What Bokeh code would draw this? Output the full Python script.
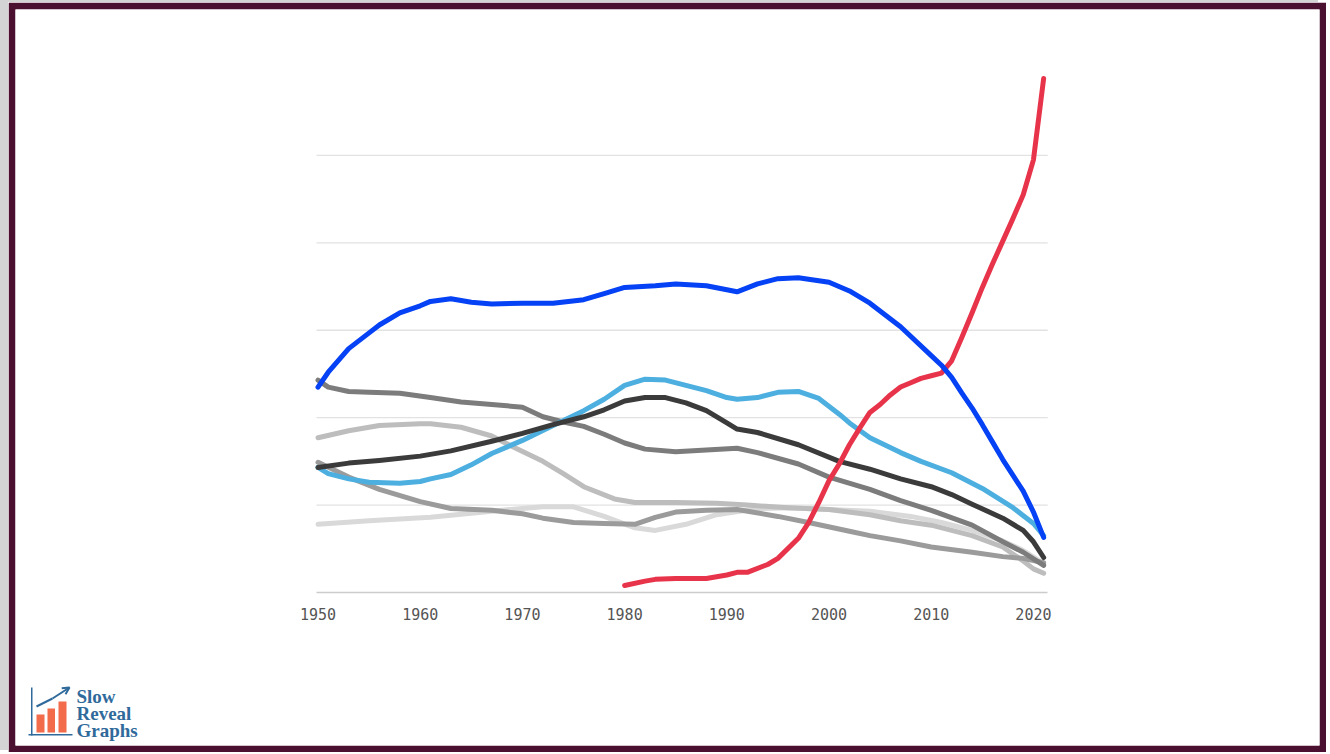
from bokeh.plotting import figure
from bokeh.models import Range1d, FixedTicker, Label, BoxAnnotation, Arrow, OpenHead
from bokeh.embed import file_html
from bokeh.resources import INLINE

# ---------------- data ----------------
x_ticks = [1950, 1960, 1970, 1980, 1990, 2000, 2010, 2020]
grid_levels = [10, 20, 30, 40, 50]

blue_years = [1950, 1951, 1953, 1955, 1956, 1958, 1960, 1961, 1963, 1965, 1967, 1970, 1973, 1976,
              1978, 1980, 1983, 1985, 1988, 1991, 1993, 1995, 1997, 2000, 2002, 2004, 2007, 2010,
              2011, 2012, 2013, 2014, 2015, 2016, 2017, 2018, 2019, 2020, 2021]
blue_vals = [23.5, 25.2, 27.9, 29.7, 30.6, 32.0, 32.8, 33.3, 33.6, 33.2, 33.0, 33.1, 33.1, 33.5,
             34.2, 34.9, 35.1, 35.3, 35.1, 34.4, 35.3, 35.9, 36.0, 35.5, 34.5, 33.1, 30.4, 27.1,
             26.0, 24.6, 22.8, 21.1, 19.2, 17.2, 15.2, 13.4, 11.6, 9.2, 6.3]

red_years = [1980, 1982, 1983, 1985, 1988, 1990, 1991, 1992, 1994, 1995, 1997, 1998, 1999, 2000,
             2001, 2002, 2003, 2004, 2005, 2006, 2007, 2008, 2009, 2010, 2011, 2012, 2013, 2014,
             2015, 2016, 2017, 2018, 2019, 2020, 2021]
red_vals = [0.8, 1.3, 1.5, 1.6, 1.6, 2.0, 2.3, 2.3, 3.2, 3.9, 6.2, 8.0, 10.3, 12.8,
            14.7, 16.9, 18.8, 20.6, 21.5, 22.6, 23.5, 24.0, 24.5, 24.8, 25.1, 26.5, 29.2, 32.0,
            34.9, 37.6, 40.2, 42.8, 45.5, 49.5, 58.8]

lightblue_years = [1950, 1951, 1953, 1955, 1958, 1960, 1961, 1963, 1965, 1967, 1970, 1973, 1976,
                   1978, 1980, 1982, 1984, 1986, 1988, 1990, 1991, 1993, 1995, 1997, 1999, 2001,
                   2002, 2004, 2007, 2009, 2012, 2015, 2018, 2020, 2021]
lightblue_vals = [14.3, 13.6, 13.0, 12.6, 12.5, 12.7, 13.0, 13.5, 14.6, 15.9, 17.4, 19.1, 20.8,
                  22.1, 23.7, 24.4, 24.3, 23.7, 23.1, 22.3, 22.1, 22.3, 22.9, 23.0, 22.2, 20.4,
                  19.4, 17.7, 16.0, 15.0, 13.7, 11.9, 9.7, 7.9, 6.5]

black_years = [1950, 1953, 1956, 1960, 1963, 1967, 1970, 1973, 1976, 1978, 1980, 1982, 1984, 1986,
               1988, 1990, 1991, 1993, 1997, 2001, 2004, 2007, 2010, 2012, 2014, 2017, 2019, 2020, 2021]
black_vals = [14.3, 14.8, 15.1, 15.6, 16.2, 17.3, 18.2, 19.2, 20.1, 20.9, 21.9, 22.3, 22.3, 21.7,
              20.8, 19.4, 18.7, 18.3, 16.9, 15.0, 14.1, 13.0, 12.1, 11.2, 10.1, 8.5, 7.1, 5.8, 4.0]

midgray_years = [1950, 1951, 1953, 1955, 1958, 1961, 1964, 1967, 1970, 1972, 1974, 1976, 1978, 1980,
                 1982, 1985, 1988, 1991, 1993, 1997, 2000, 2004, 2007, 2010, 2014, 2017, 2019, 2021]
midgray_vals = [24.3, 23.5, 23.0, 22.9, 22.8, 22.3, 21.8, 21.5, 21.2, 20.1, 19.5, 19.0, 18.1, 17.1,
                16.4, 16.1, 16.3, 16.5, 16.0, 14.7, 13.2, 11.8, 10.5, 9.4, 7.7, 5.8, 4.6, 3.1]

gray_years = [1950, 1953, 1956, 1960, 1963, 1967, 1970, 1972, 1975, 1978, 1981, 1983, 1985, 1988,
              1991, 1995, 1998, 2002, 2004, 2007, 2010, 2014, 2017, 2019, 2021]
gray_vals = [14.9, 13.2, 11.8, 10.4, 9.6, 9.4, 9.0, 8.5, 8.0, 7.9, 7.8, 8.6, 9.2, 9.4,
             9.5, 8.7, 8.0, 7.0, 6.5, 5.9, 5.2, 4.6, 4.1, 3.9, 3.4]

lightgray_years = [1950, 1953, 1956, 1960, 1961, 1964, 1967, 1969, 1972, 1974, 1976, 1979, 1981,
                   1985, 1989, 1992, 1996, 2000, 2004, 2007, 2010, 2014, 2017, 2019, 2020, 2021]
lightgray_vals = [17.7, 18.5, 19.1, 19.3, 19.3, 18.9, 17.9, 16.7, 15.0, 13.6, 12.1, 10.7, 10.3,
                  10.3, 10.2, 10.0, 9.7, 9.5, 8.9, 8.2, 7.7, 6.5, 5.2, 3.6, 2.7, 2.2]

palegray_years = [1950, 1955, 1961, 1968, 1972, 1975, 1978, 1981, 1983, 1986, 1989, 1993, 1996,
                  2000, 2004, 2008, 2011, 2014, 2017, 2019, 2021]
palegray_vals = [7.8, 8.2, 8.6, 9.4, 9.8, 9.8, 8.7, 7.4, 7.1, 7.8, 8.9, 9.6, 9.7,
                 9.5, 9.3, 8.7, 8.0, 7.1, 5.9, 4.8, 3.3]

logo_lines = ["Slow", "Reveal", "Graphs"]

# ---------------- figure ----------------
# The white frame fills the whole card; the maroon card edge is the border fill.
p = figure(width=1318, height=750, output_backend="svg", toolbar_location=None,
           x_range=Range1d(1920.40, 2047.99), y_range=Range1d(-17.51, 66.70),
           min_border_left=7, min_border_right=7, min_border_top=7, min_border_bottom=7,
           background_fill_color="white", border_fill_color="#4b1030", outline_line_color=None)
p.styles = {"margin-left": "8px", "margin-top": "2px",
            "box-shadow": "-8px -2px 0 0 #d4d4d4"}

p.yaxis.visible = False
p.xgrid.grid_line_color = None
p.ygrid.grid_line_color = None

# horizontal guide lines, limited to the plotted span of years
grid_start, grid_end = 1949.85, 2021.4
p.segment(x0=[grid_start] * len(grid_levels), x1=[grid_end] * len(grid_levels),
          y0=grid_levels, y1=grid_levels, line_color="#e2e2e2", line_width=1.3)

p.xaxis.fixed_location = 0
p.xaxis.bounds = (grid_start, grid_end)
p.xaxis.ticker = FixedTicker(ticks=x_ticks)
p.xaxis.axis_line_color = "#cccccc"
p.xaxis.axis_line_width = 1.5
p.xaxis.major_tick_line_color = None
p.xaxis.minor_tick_line_color = None
p.xaxis.major_label_text_font = "DejaVu Sans Mono"
p.xaxis.major_label_text_font_size = "15px"
p.xaxis.major_label_text_color = "#555555"
p.xaxis.major_label_standoff = 10

series = [
    (palegray_years, palegray_vals, "#d9d9d9"),
    (lightgray_years, lightgray_vals, "#bdbdbd"),
    (gray_years, gray_vals, "#9b9b9b"),
    (midgray_years, midgray_vals, "#7c7c7c"),
    (lightblue_years, lightblue_vals, "#4dafdf"),
    (black_years, black_vals, "#3b3b3b"),
    (red_years, red_vals, "#e8344a"),
    (blue_years, blue_vals, "#0541f5"),
]
for xs, ys, c in series:
    p.line(xs, ys, line_color=c, line_width=5, line_cap="round", line_join="round")

# ---------------- logo (canvas pixel units) ----------------
logo_blue = "#2f6a9b"
logo_orange = "#f26b4a"
for i, t in enumerate(logo_lines):
    p.add_layout(Label(x=68, y=694 + 17 * i, x_units="canvas", y_units="canvas", text=t,
                       text_font="Liberation Serif", text_font_size="19px",
                       text_font_style="bold",
                       text_color=logo_blue, text_baseline="alphabetic"))


def cbox(l, r, t, b, c):
    return BoxAnnotation(left=l, right=r, top=t, bottom=b,
                         left_units="canvas", right_units="canvas",
                         top_units="canvas", bottom_units="canvas",
                         fill_color=c, fill_alpha=1, line_color=None)


for l, r, t in [(28, 36, 712), (39, 46.5, 706), (50, 58, 699)]:
    p.add_layout(cbox(l, r, t, 730, logo_orange))
p.add_layout(cbox(22.5, 24, 685, 733, logo_blue))
p.add_layout(cbox(20, 64, 731.5, 733, logo_blue))
p.add_layout(Arrow(x_start=28, y_start=704, x_end=44, y_end=696,
                   start_units="canvas", end_units="canvas",
                   line_color=logo_blue, line_width=2, end=None))
p.add_layout(Arrow(x_start=44, y_start=696, x_end=61, y_end=685,
                   start_units="canvas", end_units="canvas",
                   line_color=logo_blue, line_width=2,
                   end=OpenHead(size=7, line_color=logo_blue, line_width=2)))

open("out.html", "w").write(file_html(p, INLINE))
